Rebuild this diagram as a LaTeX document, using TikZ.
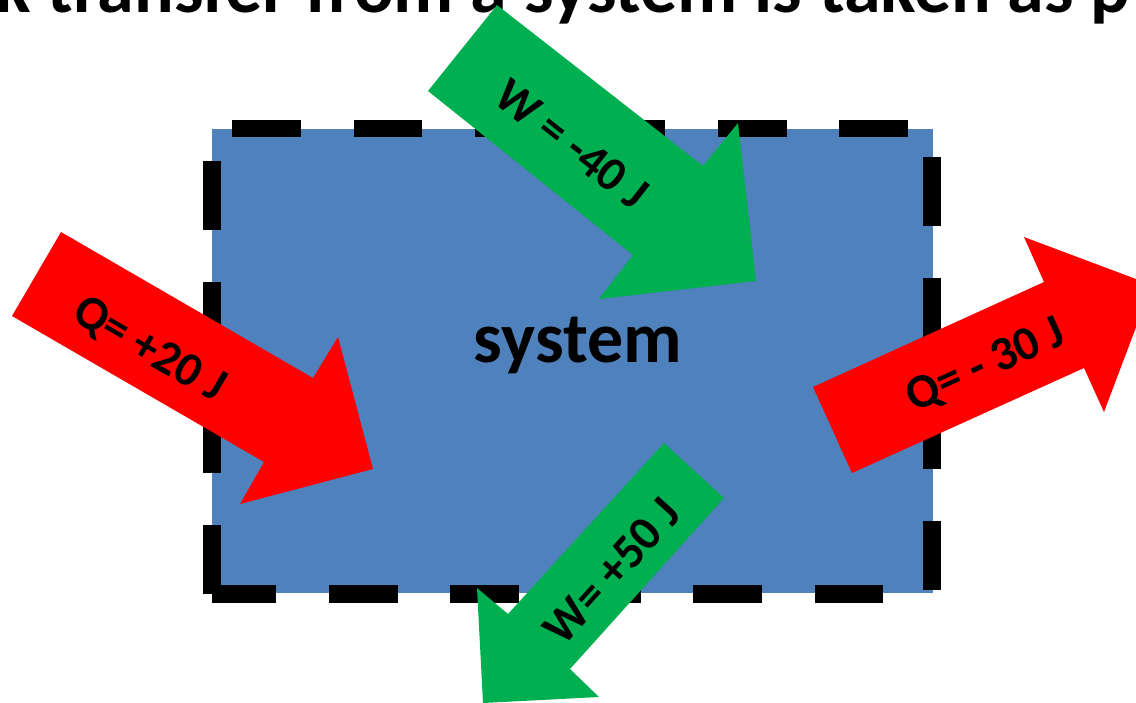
\documentclass[tikz,border=0pt]{standalone}
\usepackage{fontspec}
\setmainfont{Carlito}
\usepackage{tikz}
\definecolor{sysblue}{RGB}{79,129,189}
\definecolor{workgreen}{RGB}{0,176,80}
\definecolor{heatred}{RGB}{255,0,0}

\begin{document}
\begin{tikzpicture}[x=1pt, y=-1pt,
    arrowtext/.style={font=\fontsize{48}{52}\selectfont\bfseries, inner sep=0pt}]
    \useasboundingbox (0,0) rectangle (1136,702);

    % Title (cut by the page edge)
    \node[anchor=base west, inner sep=0pt, font=\fontsize{74}{80}\selectfont\bfseries] (title) at (-5,12.7) {k transfer from a system is taken as p};

    % System box
    \fill[sysblue] (212,129) rectangle (933,593);
    \draw[line width=17.3, dash pattern=on 68.8 off 52.6] (212,594) -- (212,128.5) -- (932,128.5) -- (932,594) -- (212,594);

    % Heat arrows
    \fill[heatred] (61,232) -- (313,378) -- (338,337) -- (373,469) -- (240,504) -- (264,462) -- (12,316) -- cycle;
    \fill[heatred] (813,387) -- (1044,282) -- (1024,237) -- (1152,285) -- (1104,412) -- (1084,368) -- (852,473) -- cycle;

    % Work arrows
    \fill[workgreen] (497,5) -- (703,166) -- (738,123) -- (756,281) -- (599,299) -- (633,255) -- (428,91) -- cycle;
    \fill[workgreen] (664,443) -- (724,498) -- (570,669) -- (599,697) -- (483,703) -- (477,588) -- (508,614) -- cycle;

    \node[font=\fontsize{72}{80}\selectfont\bfseries] (system) at (578,345) {system};

    % Arrow labels
    \foreach \name/\txt/\pos/\ang in {
        qin/{Q= +20 J}/{149,350}/-30,
        qout/{Q= - 30 J}/{986,366}/24.4,
        win/{W = -40 J}/{572,144}/-38,
        wout/{W= +50 J}/{612,571}/47.8%
    } {
        \node[arrowtext, rotate=\ang] (\name) at (\pos) {\txt};
    }
\end{tikzpicture}
\end{document}
